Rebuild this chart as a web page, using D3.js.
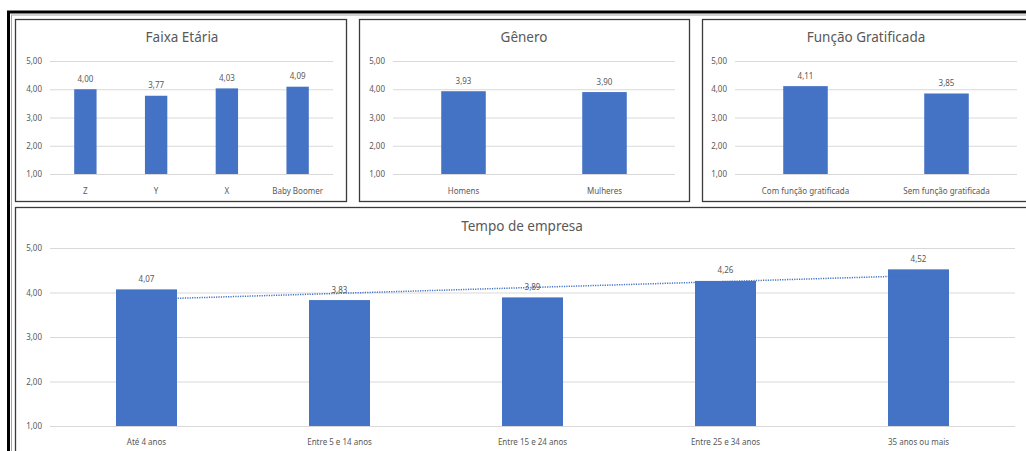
<!DOCTYPE html>
<html>
<head>
<meta charset="utf-8">
<script src="https://cdn.jsdelivr.net/npm/d3@7"></script>
<style>
  html, body { margin: 0; padding: 0; background: #fff; }
  svg { display: block; }
  text { font-family: "Noto Sans", "Open Sans", sans-serif; fill: #595959; }
</style>
</head>
<body>
<svg id="chart" width="1026" height="451"></svg>
<script>
// Survey averages by group (scale 1–5)
const faixaCats = ["Z", "Y", "X", "Baby Boomer"];
const faixaVals = [4.00, 3.77, 4.03, 4.09];

const generoCats = ["Homens", "Mulheres"];
const generoVals = [3.93, 3.90];

const funcaoCats = ["Com função gratificada", "Sem função gratificada"];
const funcaoVals = [4.11, 3.85];

const tempoCats = ["Até 4 anos", "Entre 5 e 14 anos", "Entre 15 e 24 anos", "Entre 25 e 34 anos", "35 anos ou mais"];
const tempoVals = [4.07, 3.83, 3.89, 4.26, 4.52];

const yTicks = [1, 2, 3, 4, 5];

const BAR = "#4472C4";
const GRID = "#d9d9d9";
const fmt = v => d3.format(".2f")(v).replace(".", ",");

const svg = d3.select("#chart");

// Outer frame
svg.append("rect").attr("x", 8.5).attr("y", 12).attr("width", 1040).attr("height", 460)
  .attr("fill", "none").attr("stroke", "#000").attr("stroke-width", 3);
svg.append("rect").attr("x", 11.5).attr("y", 15).attr("width", 1040).attr("height", 460)
  .attr("fill", "none").attr("stroke", "#a6a6a6").attr("stroke-width", 1);

function panel(cfg) {
  const g = svg.append("g");
  g.append("rect")
    .attr("x", cfg.box[0] + 0.5).attr("y", cfg.box[1] + 0.5)
    .attr("width", cfg.box[2] - cfg.box[0]).attr("height", cfg.box[3] - cfg.box[1])
    .attr("fill", "#fff").attr("stroke", "#3a3a3a").attr("stroke-width", 1.3);

  g.append("text")
    .attr("x", cfg.titleX).attr("y", cfg.titleY)
    .attr("text-anchor", "middle").attr("dominant-baseline", "central")
    .style("font-size", cfg.titleSize + "px")
    .text(cfg.title);

  const x = d3.scaleBand().domain(cfg.cats).range([cfg.plot[0], cfg.plot[1]]).paddingInner(0.684).paddingOuter(0.342);
  const y = d3.scaleLinear().domain([1, 5]).range([cfg.plot[3], cfg.plot[2]]);

  // Gridlines and value axis labels
  const yAxis = d3.axisLeft(y).tickValues(yTicks).tickFormat(fmt)
    .tickSize(-(cfg.plot[1] - cfg.plot[0])).tickPadding(cfg.tickPad);
  const ya = g.append("g").attr("transform", `translate(${cfg.plot[0]},0)`).call(yAxis);
  ya.select(".domain").remove();
  ya.selectAll(".tick line").attr("stroke", GRID).attr("stroke-width", 1);
  ya.selectAll(".tick text").attr("fill", "#595959").style("font-size", "8px")
    .style("font-family", '"Noto Sans", sans-serif');

  // Category axis labels
  const xAxis = d3.axisBottom(x).tickSize(0).tickPadding(cfg.catPad);
  const xa = g.append("g").attr("transform", `translate(0,${cfg.plot[3]})`).call(xAxis);
  xa.select(".domain").remove();
  xa.selectAll(".tick text").attr("fill", "#595959").style("font-size", "8px")
    .style("font-family", '"Noto Sans", sans-serif');

  const data = cfg.cats.map((c, i) => ({ c, v: cfg.vals[i] }));

  g.selectAll("rect.bar").data(data).join("rect").attr("class", "bar")
    .attr("x", d => x(d.c)).attr("width", x.bandwidth())
    .attr("y", d => y(d.v)).attr("height", d => y(1) - y(d.v))
    .attr("fill", BAR);

  g.selectAll("text.val").data(data).join("text").attr("class", "val")
    .attr("x", d => x(d.c) + x.bandwidth() / 2).attr("y", d => y(d.v) - 11)
    .attr("text-anchor", "middle").attr("dominant-baseline", "central")
    .style("font-size", "8px")
    .text(d => fmt(d.v));

  if (cfg.trend) {
    // Linear trendline fitted over category positions 1..n
    const n = cfg.vals.length;
    const xs = d3.range(1, n + 1);
    const mx = d3.mean(xs), my = d3.mean(cfg.vals);
    const slope = d3.sum(xs, (xi, i) => (xi - mx) * (cfg.vals[i] - my)) / d3.sum(xs, xi => (xi - mx) ** 2);
    const icpt = my - slope * mx;
    const pts = [1, n].map(k => [x(cfg.cats[k - 1]) + x.bandwidth() / 2, y(icpt + slope * k)]);
    g.append("path").attr("d", d3.line()(pts))
      .attr("fill", "none").attr("stroke", BAR).attr("stroke-width", 1.5)
      .attr("stroke-dasharray", "1.2,1.2");
  }
}

panel({ box: [15, 19, 346, 201], plot: [50, 333, 61, 174], title: "Faixa Etária",
  titleX: 182, titleY: 37, titleSize: 13.5, cats: faixaCats, vals: faixaVals, tickPad: 8, catPad: 14 });
panel({ box: [359, 19, 689, 201], plot: [393, 675, 61, 174], title: "Gênero",
  titleX: 524, titleY: 37, titleSize: 13.5, cats: generoCats, vals: generoVals, tickPad: 8, catPad: 14 });
panel({ box: [702, 19, 1040, 201], plot: [735, 1017, 61, 174], title: "Função Gratificada",
  titleX: 866, titleY: 37, titleSize: 13.5, cats: funcaoCats, vals: funcaoVals, tickPad: 8, catPad: 14 });
panel({ box: [15, 207, 1040, 470], plot: [50, 1015, 248, 426], title: "Tempo de empresa",
  titleX: 522, titleY: 226, titleSize: 13.5, cats: tempoCats, vals: tempoVals, tickPad: 8, catPad: 13, trend: true });
</script>
</body>
</html>
